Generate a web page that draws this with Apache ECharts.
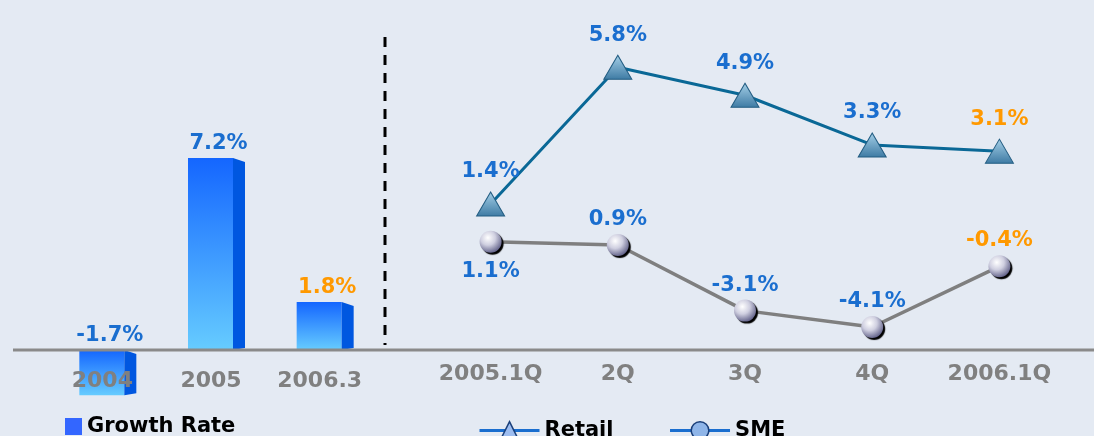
<!DOCTYPE html>
<html>
<head>
<meta charset="utf-8">
<script src="https://cdn.jsdelivr.net/npm/echarts@6/dist/echarts.min.js"></script>
<style>
  html, body { margin: 0; padding: 0; background: #e4eaf3; }
  #chart { width: 1094px; height: 436px; }
</style>
</head>
<body>
<div id="chart"></div>
<script>
// yearly growth (left) and quarterly growth (right)
const yearCats = ['2004', '2005', '2006.3']
const growthRate = [-1.7, 7.2, 1.8]
const quarterCats = ['2005.1Q', '2Q', '3Q', '4Q', '2006.1Q']
const retail = [1.4, 5.8, 4.9, 3.3, 3.1]
const sme = [1.1, 0.9, -3.1, -4.1, -0.4]

const blue = '#1a6ecf'
const orange = '#ff9900'
const font = 'DejaVu Sans'

const chart = echarts.init(document.getElementById('chart'))

function renderBar(params, api) {
  const v = api.value(1)
  const c = api.coord([api.value(0), v])
  const z = api.coord([api.value(0), 0])
  const w = 45
  const d = 12
  const x = c[0] - 23
  const top = Math.min(c[1], z[1])
  const bot = Math.max(c[1], z[1])
  const last = params.dataIndex === growthRate.length - 1
  return {
    type: 'group',
    children: [
      {
        type: 'rect',
        shape: { x: x, y: top, width: w, height: bot - top },
        style: {
          fill: new echarts.graphic.LinearGradient(0, 0, 0, 1, [
            { offset: 0, color: '#1466ff' },
            { offset: 1, color: '#66ccff' }
          ])
        }
      },
      {
        type: 'polygon',
        shape: { points: [[x + w, top], [x + w + d, top + 4], [x + w + d, bot - 2], [x + w, bot]] },
        style: { fill: '#0057e0' }
      },
      {
        type: 'text',
        x: x + w / 2 + 8,
        y: top - 4,
        style: {
          text: v + '%',
          align: 'center',
          verticalAlign: 'bottom',
          fill: last ? orange : blue,
          font: 'bold 21px ' + font
        }
      }
    ]
  }
}

const pctLabel = {
  show: true,
  formatter: p => p.value + '%',
  fontFamily: font,
  fontWeight: 'bold',
  fontSize: 21
}

chart.setOption({
  backgroundColor: '#e4eaf3',
  animation: false,
  textStyle: { fontFamily: font },
  grid: [
    // bottom edge of the left grid is the zero line; the negative bar hangs below it
    { left: 48, width: 326, top: 110, height: 240, outerBoundsMode: 'none', containLabel: false },
    { left: 427, width: 636, top: 30, height: 320, outerBoundsMode: 'none', containLabel: false }
  ],
  legend: [
    {
      left: 60, top: 411,
      itemWidth: 17, itemHeight: 17, itemGap: 5,
      textStyle: { fontFamily: font, fontWeight: 'bold', fontSize: 21, color: '#000' },
      data: [{ name: 'Growth Rate', icon: 'rect', itemStyle: { color: '#3366ff' } }]
    },
    {
      left: 473, top: 415,
      itemWidth: 60, itemHeight: 22, itemGap: 55,
      textStyle: { fontFamily: font, fontWeight: 'bold', fontSize: 21, color: '#000' },
      data: [
        { name: 'Retail', lineStyle: { color: blue, width: 3 }, itemStyle: { color: '#9dbdf0', borderColor: '#1a3f7a', borderWidth: 1.5 } },
        { name: 'SME', lineStyle: { color: blue, width: 3 }, itemStyle: { color: '#8fb5e8', borderColor: '#1a3f7a', borderWidth: 1.5, shadowBlur: 0 } }
      ]
    }
  ],
  xAxis: [
    {
      gridIndex: 0, type: 'category', data: yearCats, z: 10,
      axisLine: { show: false },
      axisTick: { show: false },
      axisLabel: { interval: 0, margin: 20, color: '#808080', fontFamily: font, fontWeight: 'bold', fontSize: 22 }
    },
    {
      gridIndex: 1, type: 'category', data: quarterCats, z: 10,
      axisLine: { show: false },
      axisTick: { show: false },
      axisLabel: { interval: 0, margin: 13, color: '#808080', fontFamily: font, fontWeight: 'bold', fontSize: 22 }
    }
  ],
  yAxis: [
    { gridIndex: 0, type: 'value', min: 0, max: 9, show: false },
    { gridIndex: 1, type: 'value', min: -3.3, max: 7, show: false },
    { gridIndex: 1, type: 'value', min: -5.5, max: 14, show: false }
  ],
  series: [
    {
      name: 'Growth Rate',
      type: 'custom',
      xAxisIndex: 0,
      yAxisIndex: 0,
      clip: false,
      renderItem: renderBar,
      encode: { x: 0, y: 1 },
      data: growthRate.map((v, i) => [i, v]),
      z: 3
    },
    {
      name: 'Retail',
      type: 'line',
      xAxisIndex: 1,
      yAxisIndex: 1,
      symbol: 'triangle',
      symbolSize: [28, 24],
      lineStyle: { color: '#0a6896', width: 3 },
      itemStyle: {
        color: new echarts.graphic.LinearGradient(0, 0, 0, 1, [
          { offset: 0, color: '#a6d0e8' },
          { offset: 1, color: '#3d7aa3' }
        ]),
        borderColor: '#235d82',
        borderWidth: 1
      },
      label: Object.assign({}, pctLabel, { position: 'top', distance: 9 }),
      data: retail.map((v, i) => ({
        value: v,
        label: { color: i === retail.length - 1 ? orange : blue }
      })),
      z: 5
    },
    {
      name: 'SME',
      type: 'line',
      xAxisIndex: 1,
      yAxisIndex: 2,
      symbol: 'circle',
      symbolSize: 22,
      lineStyle: { color: '#7f7f7f', width: 3.5 },
      itemStyle: {
        color: new echarts.graphic.RadialGradient(0.38, 0.32, 0.75, [
          { offset: 0, color: '#ffffff' },
          { offset: 0.45, color: '#cfcfe0' },
          { offset: 1, color: '#55557f' }
        ]),
        shadowColor: '#000',
        shadowOffsetX: 2,
        shadowOffsetY: 2,
        shadowBlur: 1
      },
      label: Object.assign({}, pctLabel, { position: 'top', distance: 4 }),
      data: sme.map((v, i) => ({
        value: v,
        label: {
          color: i === sme.length - 1 ? orange : blue,
          position: i === 0 ? 'bottom' : 'top',
          distance: i === 0 ? 8 : 4
        }
      })),
      z: 4
    }
  ]
})

// baseline and separator, placed from the axes
const zeroY = chart.convertToPixel({ gridIndex: 0 }, [0, 0])[1]
const lastBar = chart.convertToPixel({ gridIndex: 0 }, [yearCats.length - 1, 0])[0]
const firstQ = chart.convertToPixel({ gridIndex: 1 }, [0, 0])[0]
const sepX = Math.round((lastBar + firstQ) / 2) - 20
chart.setOption({
  graphic: [
    {
      type: 'line', z: 100,
      shape: { x1: 13, y1: zeroY, x2: 1094, y2: zeroY },
      style: { stroke: '#8a8a8a', lineWidth: 3 }
    },
    {
      type: 'line', z: 100,
      shape: { x1: sepX, y1: 37, x2: sepX, y2: zeroY - 5 },
      style: { stroke: '#000', lineWidth: 3, lineDash: [10, 8] }
    }
  ]
})
</script>
</body>
</html>
